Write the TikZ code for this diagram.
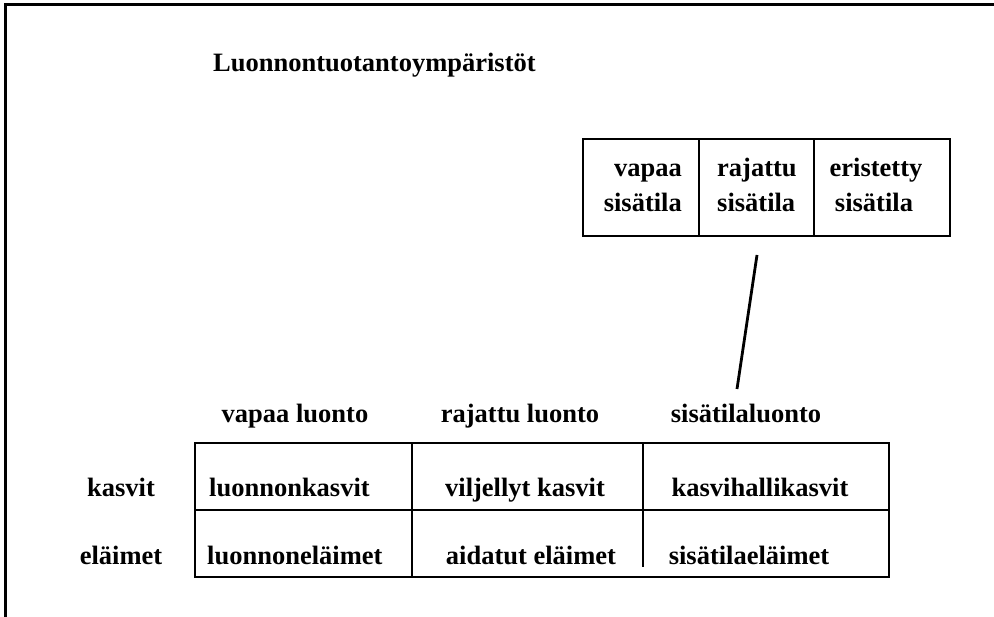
\documentclass[tikz,border=0pt]{standalone}
\usepackage{fontspec}
\setmainfont{Liberation Serif}
\tikzset{lbl/.style={inner sep=0pt,anchor=base,font=\fontsize{26.5}{35}\selectfont\bfseries}}
\tikzset{rule/.style={line width=2.5pt}}

\begin{document}
\begin{tikzpicture}[x=1pt,y=-1pt]
                \useasboundingbox (0,0) rectangle (994,617);
                \draw[rule] (994,4.5) -- (5.5,4.5) -- (5.5,617);

                \node[lbl,anchor=base west] (title) at (213,72) {Luonnontuotantoympäristöt};

                % upper table
                \draw[rule] (583,139) rectangle (950,236);
                \draw[rule] (699,139) -- (699,236);
                \draw[rule] (814,139) -- (814,236);
                \node[lbl,anchor=base east] (vs1) at (682,177) {vapaa};
                \node[lbl,anchor=base east] (vs2) at (682,212) {sisätila};
                \node[lbl,anchor=base west] (rs1) at (717,177) {rajattu};
                \node[lbl,anchor=base west] (rs2) at (717,212) {sisätila};
                \node[lbl] (es1) at (876,177) {eristetty};
                \node[lbl] (es2) at (874,212) {sisätila};

                \coordinate (linetop) at (757,255);
                \coordinate (linebot) at (737,389);
                \draw[rule,line width=2.8pt] (linetop) -- (linebot);

                % column headers
                \node[lbl] (vl) at (295,423) {vapaa luonto};
                \node[lbl] (rl) at (520,423) {rajattu luonto};
                \node[lbl] (sl) at (746,423) {sisätilaluonto};

                % row labels
                \node[lbl] (kasvit) at (121,497) {kasvit};
                \node[lbl] (elaimet) at (121,565) {eläimet};

                % lower table
                \draw[rule] (195,443) rectangle (889,577);
                \draw[rule] (195,510) -- (889,510);
                \draw[rule] (412,443) -- (412,577);
                \draw[rule] (643,443) -- (643,567);
                \node[lbl,anchor=base west] (lk) at (209,497) {luonnonkasvit};
                \node[lbl] (vk) at (525,497) {viljellyt kasvit};
                \node[lbl] (hk) at (760,497) {kasvihallikasvit};
                \node[lbl,anchor=base west] (le) at (207,565) {luonnoneläimet};
                \node[lbl] (ae) at (531,565) {aidatut eläimet};
                \node[lbl] (se) at (749,565) {sisätilaeläimet};
            \end{tikzpicture}
\end{document}
